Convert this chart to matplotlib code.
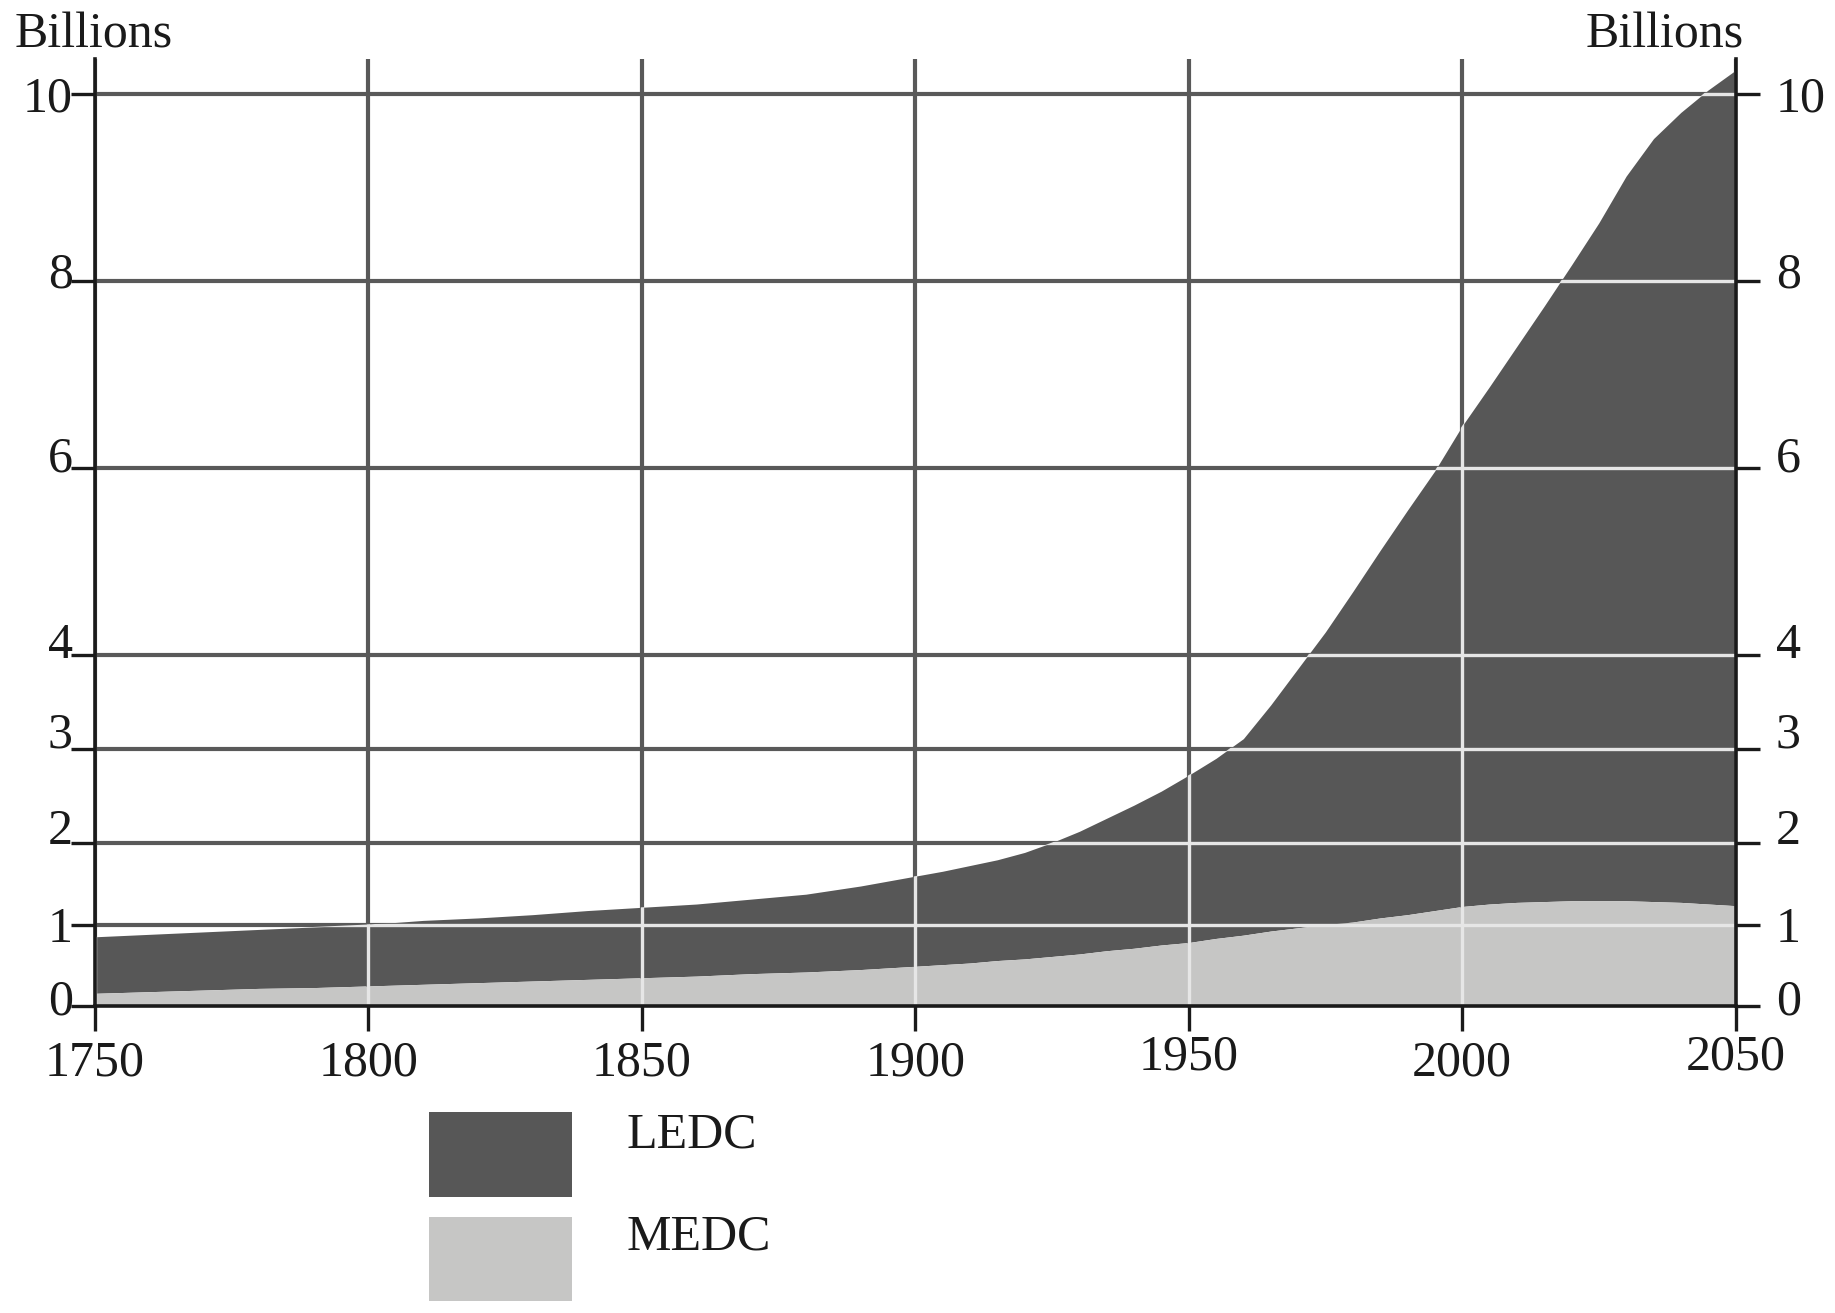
import numpy as np
import matplotlib
matplotlib.use("Agg")
import matplotlib.pyplot as plt
from matplotlib.path import Path
from matplotlib.patches import Rectangle
from matplotlib.transforms import ScaledTranslation

# ---- data (billions) ----
years = [1750, 1760, 1770, 1780, 1790, 1800, 1810, 1820, 1830, 1840,
         1850, 1860, 1870, 1880, 1890, 1900, 1905, 1910, 1915, 1920,
         1925, 1930, 1935, 1940, 1945, 1950, 1955, 1960, 1965, 1970,
         1975, 1980, 1985, 1990, 1995, 2000, 2005, 2010, 2015, 2020,
         2025, 2030, 2035, 2040, 2045, 2050]
medc = [0.16, 0.18, 0.20, 0.22, 0.23, 0.25, 0.27, 0.29, 0.31, 0.33,
        0.35, 0.37, 0.40, 0.42, 0.45, 0.49, 0.51, 0.53, 0.56, 0.58,
        0.61, 0.64, 0.68, 0.71, 0.75, 0.78, 0.83, 0.87, 0.92, 0.96,
        1.00, 1.03, 1.08, 1.12, 1.17, 1.22, 1.25, 1.27, 1.28, 1.29,
        1.29, 1.29, 1.28, 1.27, 1.25, 1.23]
ledc = [0.69, 0.70, 0.71, 0.72, 0.74, 0.75, 0.78, 0.79, 0.81, 0.84,
        0.86, 0.88, 0.91, 0.95, 1.02, 1.10, 1.14, 1.19, 1.23, 1.30,
        1.39, 1.48, 1.58, 1.69, 1.80, 1.94, 2.07, 2.24, 2.55, 2.90,
        3.25, 3.65, 4.04, 4.43, 4.80, 5.23, 5.62, 6.03, 6.45, 6.88,
        7.33, 7.83, 8.24, 8.53, 8.79, 9.02]
x_ticks = [1750, 1800, 1850, 1900, 1950, 2000, 2050]
y_ticks = [0, 1, 2, 3, 4, 6, 8, 10]
series_names = ["LEDC", "MEDC"]

C_LEDC = "#575757"
C_MEDC = "#c6c6c5"
C_GRID = "#595959"
C_LIGHT = "#e6e6e6"
C_AX = "#1a1a1a"
FONT = "Liberation Serif"
FS = 36

plt.rcParams["font.family"] = [FONT, "DejaVu Serif"]

# the printed axis: 0-2 is slightly compressed relative to 2-10
def fwd(v):
    v = np.asarray(v, dtype=float)
    return np.where(v < 2, v * 0.875, v - 0.25)

def inv(p):
    p = np.asarray(p, dtype=float)
    return np.where(p < 1.75, p / 0.875, p + 0.25)

fig = plt.figure(figsize=(18.35, 13.13), dpi=100)
ax = fig.add_axes([0.0517, 0.2335, 0.8941, 0.7219])
ax.set_yscale("function", functions=(fwd, inv))
ax.set_xlim(1750, 2050)
ax.set_ylim(0, 10.375)

yr = np.array(years, dtype=float)
m = np.array(medc)
l = np.array(ledc)
tot = m + l

# dark grid
ax.set_axisbelow(True)
ax.set_xticks(x_ticks)
ax.set_yticks(y_ticks)
ax.grid(True, color=C_GRID, linewidth=3.0, zorder=0)

# stacked areas
ax.fill_between(yr, m, tot, color=C_LEDC, linewidth=0, zorder=1)
ax.fill_between(yr, 0, m, color=C_MEDC, linewidth=0, zorder=1)

# light grid lines visible only inside the filled area
verts = np.column_stack([np.r_[yr, yr[::-1]], np.r_[tot, np.zeros_like(tot)]])
clip = Path(verts)
for yv in y_ticks:
    ln = ax.axhline(yv, color=C_LIGHT, linewidth=2.4, zorder=2)
    ln.set_clip_path(clip, ax.transData)
for xv in x_ticks:
    ln = ax.axvline(xv, color=C_LIGHT, linewidth=2.4, zorder=2)
    ln.set_clip_path(clip, ax.transData)

# spines
for s in ["left", "right", "bottom"]:
    ax.spines[s].set_color(C_AX)
    ax.spines[s].set_linewidth(2.6)
    ax.spines[s].set_zorder(5)
ax.spines["top"].set_visible(False)

ax.set_xticklabels([str(v) for v in x_ticks])
ax.tick_params(axis="x", direction="out", length=18, width=2.4, color=C_AX,
               labelsize=FS, pad=6, labelcolor=C_AX)
ax.set_yticklabels([str(v) for v in y_ticks])
ax.tick_params(axis="y", direction="out", length=17, width=2.4, color=C_AX,
               labelsize=FS, pad=-1, labelcolor=C_AX, left=True, right=False)
for lab in ax.get_xticklabels() + ax.get_yticklabels():
    lab.set_fontfamily(FONT)

# right axis
ax2 = ax.twinx()
ax2.set_yscale("function", functions=(fwd, inv))
ax2.set_ylim(0, 10.375)
ax2.set_yticks(y_ticks)
ax2.set_yticklabels([str(v) for v in y_ticks])
ax2.tick_params(axis="y", direction="out", length=17, width=2.4, color=C_AX,
                labelsize=FS, pad=12, labelcolor=C_AX)
for s in ax2.spines.values():
    s.set_visible(False)
for lab in ax2.get_yticklabels():
    lab.set_fontfamily(FONT)

# the printed labels sit slightly above their lines
lift_pt = {0: 7, 1: 0, 2: 12, 3: 14, 4: 11, 6: 10, 8: 8, 10: 0}
for a, which in ((ax, 1), (ax2, 2)):
    for t, v in zip(a.yaxis.get_major_ticks(), y_ticks):
        lab = t.label1 if which == 1 else t.label2
        lab.set_transform(lab.get_transform() +
                          ScaledTranslation(0, lift_pt[v] / 72, fig.dpi_scale_trans))
xlift_pt = {1950: 4, 2050: 4}
for t, v in zip(ax.xaxis.get_major_ticks(), x_ticks):
    if v in xlift_pt:
        t.label1.set_transform(t.label1.get_transform() +
                               ScaledTranslation(0, xlift_pt[v] / 72, fig.dpi_scale_trans))

# unit labels
fig.text(0.0077, 0.973, "Billions", fontsize=FS, fontfamily=FONT, color=C_AX,
         ha="left", va="center")
fig.text(0.9503, 0.973, "Billions", fontsize=FS, fontfamily=FONT, color=C_AX,
         ha="right", va="center")

# legend
fig.add_artist(Rectangle((0.234, 0.0882), 0.0778, 0.065, transform=fig.transFigure,
                         facecolor=C_LEDC, edgecolor="none"))
fig.add_artist(Rectangle((0.234, 0.0089), 0.0778, 0.0642, transform=fig.transFigure,
                         facecolor=C_MEDC, edgecolor="none"))
fig.text(0.3412, 0.1355, series_names[0], fontsize=FS, fontfamily=FONT, color=C_AX,
         ha="left", va="center")
fig.text(0.3412, 0.058, series_names[1], fontsize=FS, fontfamily=FONT, color=C_AX,
         ha="left", va="center")

fig.savefig("out.png", dpi=100)
